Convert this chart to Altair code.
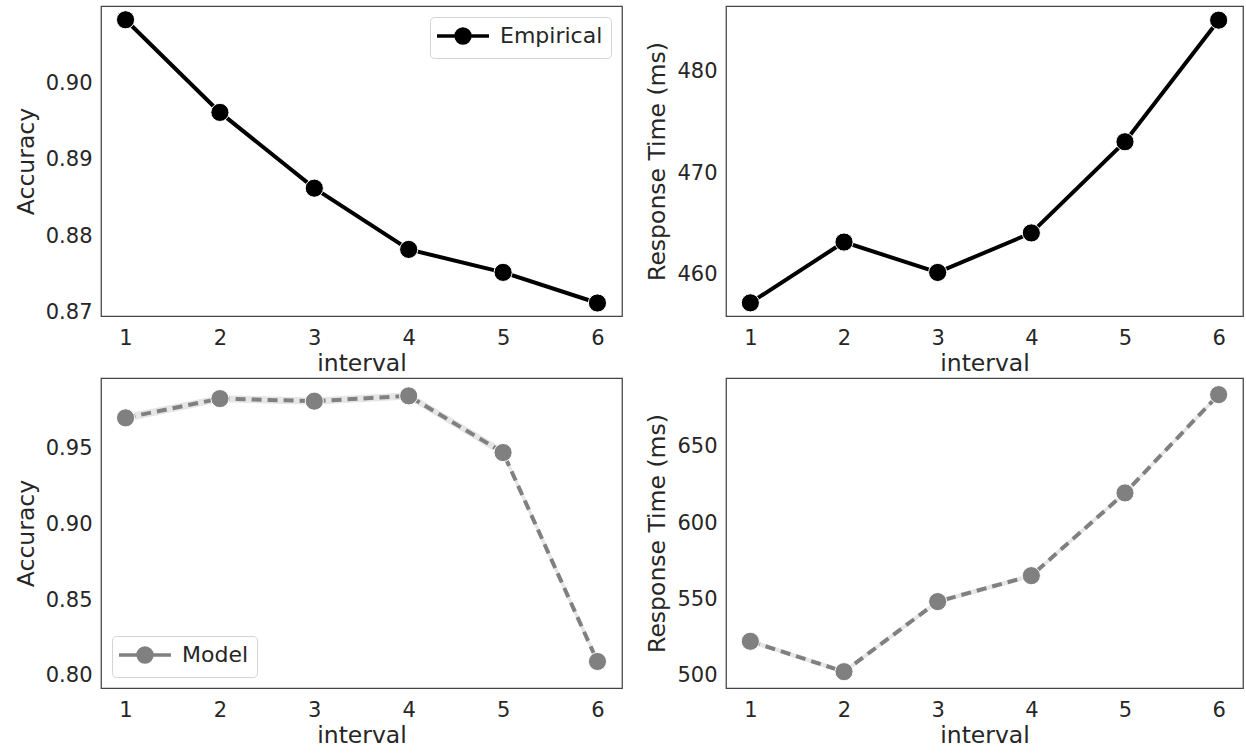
import altair as alt
import pandas as pd

intervals = [1, 2, 3, 4, 5, 6]

emp_acc = [0.9083, 0.8962, 0.8863, 0.8783, 0.8753, 0.8713]
emp_rt = [457.2, 463.2, 460.2, 464.1, 473.1, 485.1]

model_acc = [0.9703, 0.9830, 0.9813, 0.9848, 0.9474, 0.8095]
model_acc_lo = [0.9678, 0.9806, 0.9789, 0.9824, 0.9448, 0.8068]
model_acc_hi = [0.9728, 0.9854, 0.9837, 0.9872, 0.9500, 0.8122]

model_rt = [522.7, 502.8, 548.7, 565.7, 619.9, 684.3]
model_rt_lo = [521.2, 501.3, 547.2, 564.2, 618.4, 682.8]
model_rt_hi = [524.2, 504.3, 550.2, 567.2, 621.4, 685.8]

FONT = "DejaVu Sans"
TXT = "#262626"
SYM = "M-3,0L-0.8,0M0.8,0L3,0M0.8,0A0.8,0.8,0,1,1,-0.8,0A0.8,0.8,0,1,1,0.8,0Z"


def make_df(vals, label, lo=None, hi=None):
    d = {"interval": intervals, "value": vals, "series": [label] * len(vals)}
    if lo is not None:
        d["lo"] = lo
        d["hi"] = hi
    return pd.DataFrame(d)


def panel(df, ytitle, ydomain, yticks, fmt, color, dash, label,
          show_legend, legend_orient, band, w):
    base = alt.Chart(df)
    x = alt.X("interval:Q",
              scale=alt.Scale(domain=[0.74, 6.26], nice=False, zero=False),
              axis=alt.Axis(values=intervals, format="d", title="interval",
                            labelPadding=11, titlePadding=3))
    yaxis = alt.Axis(values=yticks, format=fmt, title=ytitle)
    yscale = alt.Scale(domain=ydomain, nice=False, zero=False)
    layers = []
    if band:
        layers.append(base.mark_area(color=color, opacity=0.2).encode(
            x=x, y=alt.Y("lo:Q", scale=yscale, axis=yaxis), y2="hi:Q"))
    line_kwargs = dict(strokeWidth=4)
    if dash:
        line_kwargs["strokeDash"] = dash
    legend = None
    if show_legend:
        legend = alt.Legend(
            title=None, orient=legend_orient, offset=11,
            symbolType=SYM, symbolSize=300, symbolStrokeWidth=3.5,
            symbolFillColor=color, symbolStrokeColor=color, symbolDash=[1000, 0],
            symbolOffset=14, labelOffset=26,
            labelFontSize=22, labelFont=FONT, labelColor=TXT,
            fillColor="white", strokeColor="#d4d4d4", cornerRadius=4,
            padding=8)
    layers.append(base.mark_line(**line_kwargs).encode(
        x=x, y=alt.Y("value:Q", scale=yscale, axis=yaxis),
        color=alt.Color("series:N", scale=alt.Scale(domain=[label], range=[color]),
                        legend=legend)))
    layers.append(base.mark_circle(size=330, opacity=1, stroke="white",
                                   strokeWidth=1).encode(
        x=x, y=alt.Y("value:Q", scale=yscale, axis=yaxis),
        color=alt.value(color)))
    return alt.layer(*layers).properties(width=w, height=310)


tl = panel(make_df(emp_acc, "Empirical"), "Accuracy", [0.8696, 0.9101],
           [0.87, 0.88, 0.89, 0.90], ".2f", "black", None, "Empirical",
           True, "top-right", False, 521)
tr = panel(make_df(emp_rt, "Empirical"), "Response Time (ms)", [455.9, 486.5],
           [460, 470, 480], "d", "black", None, "Empirical",
           False, "top-right", False, 517)
bl = panel(make_df(model_acc, "Model", model_acc_lo, model_acc_hi), "Accuracy",
           [0.792, 0.9966], [0.80, 0.85, 0.90, 0.95], ".2f", "#808080", [10, 6],
           "Model", True, "bottom-left", True, 521)
br = panel(make_df(model_rt, "Model", model_rt_lo, model_rt_hi), "Response Time (ms)",
           [492.1, 695.2], [500, 550, 600, 650], "d", "#808080", [10, 6],
           "Model", False, "bottom-left", True, 517)

chart = alt.vconcat(
    alt.hconcat(tl, tr, spacing=22).resolve_scale(color="independent"),
    alt.hconcat(bl, br, spacing=22).resolve_scale(color="independent"),
    spacing=1,
).resolve_scale(color="independent").properties(
    padding={"left": 13, "top": 5, "right": 2, "bottom": 2},
    background="white",
).configure_view(
    stroke="#444444", strokeWidth=1.25
).configure_axis(
    grid=False, domain=False, ticks=False,
    labelFont=FONT, labelFontSize=21, labelColor=TXT, labelPadding=9,
    titleFont=FONT, titleFontSize=23.5, titleColor=TXT, titleFontWeight="normal",
    titlePadding=7,
)

chart.save("out.html", embed_options={"renderer": "svg", "actions": False})
